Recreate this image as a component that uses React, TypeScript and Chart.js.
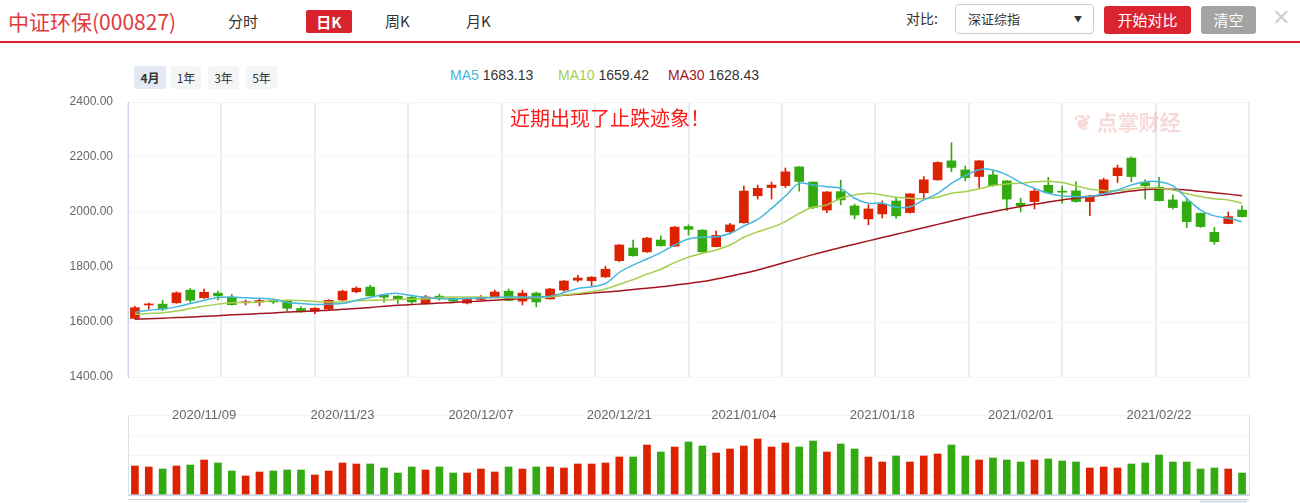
import React, { useEffect, useRef } from 'react';
import { Chart, registerables } from 'chart.js';

Chart.register(...registerables);

// ---- data ----
const DATES = [
  '2020/11/02', '2020/11/03', '2020/11/04', '2020/11/05', '2020/11/06', '2020/11/09', '2020/11/10', '2020/11/11', '2020/11/12', '2020/11/13',
  '2020/11/16', '2020/11/17', '2020/11/18', '2020/11/19', '2020/11/20', '2020/11/23', '2020/11/24', '2020/11/25', '2020/11/26', '2020/11/27',
  '2020/11/30', '2020/12/01', '2020/12/02', '2020/12/03', '2020/12/04', '2020/12/07', '2020/12/08', '2020/12/09', '2020/12/10', '2020/12/11',
  '2020/12/14', '2020/12/15', '2020/12/16', '2020/12/17', '2020/12/18', '2020/12/21', '2020/12/22', '2020/12/23', '2020/12/24', '2020/12/25',
  '2020/12/28', '2020/12/29', '2020/12/30', '2020/12/31', '2021/01/04', '2021/01/05', '2021/01/06', '2021/01/07', '2021/01/08', '2021/01/11',
  '2021/01/12', '2021/01/13', '2021/01/14', '2021/01/15', '2021/01/18', '2021/01/19', '2021/01/20', '2021/01/21', '2021/01/22', '2021/01/25',
  '2021/01/26', '2021/01/27', '2021/01/28', '2021/01/29', '2021/02/01', '2021/02/02', '2021/02/03', '2021/02/04', '2021/02/05', '2021/02/08',
  '2021/02/09', '2021/02/10', '2021/02/18', '2021/02/19', '2021/02/22', '2021/02/23', '2021/02/24', '2021/02/25', '2021/02/26', '2021/03/01',
  '2021/03/02',
];

const TICK_DATES = ['2020/11/09', '2020/11/23', '2020/12/07', '2020/12/21', '2021/01/04', '2021/01/18', '2021/02/01', '2021/02/22'];

const OPEN = [
  1613, 1662, 1665, 1670, 1716, 1688, 1705, 1690, 1670, 1673,
  1677, 1676, 1649, 1639, 1647, 1680, 1710, 1727, 1699, 1694,
  1690, 1667, 1694, 1686, 1669, 1682, 1689, 1712, 1676, 1705,
  1684, 1716, 1752, 1750, 1764, 1823, 1869, 1855, 1898, 1876,
  1947, 1934, 1874, 1928, 1961, 2059, 2089, 2096, 2164, 2109,
  2007, 2074, 2022, 1975, 1993, 2040, 1998, 2070, 2117, 2186,
  2153, 2129, 2135, 2113, 2032, 2038, 2097, 2075, 2077, 2038,
  2068, 2132, 2196, 2107, 2090, 2044, 2037, 1995, 1926, 1958,
  2007,
];
const CLOSE = [
  1652, 1664, 1647, 1706, 1679, 1708, 1695, 1663, 1673, 1678,
  1673, 1650, 1639, 1650, 1679, 1712, 1723, 1695, 1690, 1683,
  1673, 1691, 1684, 1676, 1682, 1689, 1709, 1679, 1705, 1673,
  1720, 1749, 1760, 1763, 1792, 1880, 1841, 1905, 1877, 1945,
  1937, 1855, 1915, 1953, 2076, 2086, 2098, 2146, 2111, 2017,
  2073, 2044, 1989, 2011, 2029, 1986, 2066, 2117, 2180, 2162,
  2125, 2186, 2096, 2047, 2023, 2076, 2070, 2072, 2038, 2058,
  2117, 2160, 2129, 2096, 2041, 2016, 1965, 1947, 1892, 1983,
  1983,
];
const HIGH = [
  1657, 1669, 1679, 1710, 1722, 1720, 1712, 1701, 1680, 1685,
  1683, 1680, 1656, 1652, 1681, 1716, 1728, 1734, 1700, 1695,
  1694, 1697, 1701, 1688, 1684, 1696, 1716, 1720, 1716, 1709,
  1722, 1751, 1770, 1765, 1803, 1882, 1898, 1908, 1913, 1948,
  1953, 1936, 1931, 1959, 2094, 2098, 2109, 2160, 2165, 2110,
  2074, 2116, 2029, 2026, 2040, 2052, 2067, 2129, 2183, 2252,
  2167, 2187, 2150, 2115, 2050, 2086, 2126, 2094, 2110, 2060,
  2123, 2171, 2200, 2117, 2126, 2062, 2050, 1996, 1944, 2000,
  2022,
];
const LOW = [
  1611, 1647, 1641, 1668, 1671, 1686, 1680, 1661, 1662, 1659,
  1667, 1641, 1635, 1630, 1645, 1678, 1706, 1694, 1672, 1668,
  1668, 1665, 1679, 1670, 1666, 1679, 1688, 1678, 1662, 1655,
  1683, 1712, 1746, 1728, 1762, 1819, 1839, 1853, 1876, 1874,
  1916, 1853, 1873, 1920, 1959, 2047, 2047, 2089, 2076, 2012,
  1998, 2026, 1975, 1953, 1978, 1977, 1996, 2052, 2115, 2146,
  2113, 2089, 2094, 2005, 2001, 2011, 2068, 2032, 2036, 1987,
  2066, 2107, 2110, 2047, 2040, 2011, 1943, 1944, 1883, 1957,
  1982,
];
const VOLUME = [
  29, 28, 26, 29, 30, 35, 32, 24, 19, 23,
  24, 25, 25, 20, 24, 32, 31, 31, 27, 22,
  28, 25, 28, 22, 22, 26, 23, 28, 26, 28,
  28, 27, 31, 31, 32, 38, 38, 50, 43, 48,
  53, 49, 42, 46, 49, 56, 48, 52, 48, 54,
  43, 51, 46, 38, 33, 39, 33, 39, 41, 50,
  39, 35, 37, 35, 33, 35, 36, 34, 33, 27,
  28, 27, 31, 32, 40, 33, 33, 26, 27, 26,
  22,
];
const MA5 = [
  1635, 1643, 1647, 1655, 1667, 1679, 1689, 1691, 1688, 1686,
  1683, 1671, 1667, 1664, 1665, 1667, 1679, 1689, 1700, 1704,
  1696, 1689, 1686, 1683, 1686, 1687, 1689, 1691, 1691, 1691,
  1694, 1707, 1722, 1728, 1740, 1780, 1807, 1829, 1852, 1880,
  1902, 1908, 1910, 1922, 1949, 1973, 2013, 2058, 2104, 2098,
  2092, 2086, 2050, 2032, 2032, 2017, 2019, 2044, 2068, 2104,
  2132, 2154, 2153, 2135, 2107, 2086, 2068, 2058, 2056, 2056,
  2066, 2080, 2098, 2110, 2110, 2095, 2050, 2007, 1986, 1977,
  1965,
];
const MA10 = [
  1628, 1631, 1633, 1640, 1649, 1658, 1665, 1670, 1671, 1673,
  1678, 1679, 1678, 1675, 1673, 1673, 1677, 1679, 1680, 1682,
  1683, 1684, 1689, 1691, 1691, 1691, 1689, 1688, 1688, 1688,
  1691, 1698, 1704, 1710, 1720, 1737, 1754, 1774, 1792, 1816,
  1836, 1850, 1862, 1880, 1908, 1928, 1944, 1965, 1995, 2017,
  2026, 2050, 2062, 2068, 2062, 2054, 2050, 2048, 2054, 2068,
  2074, 2084, 2096, 2102, 2105, 2110, 2112, 2107, 2095, 2083,
  2078, 2078, 2084, 2090, 2086, 2080, 2066, 2056, 2048, 2044,
  2032,
];
const MA30 = [
  1610, 1612, 1614, 1616, 1618, 1621, 1623, 1626, 1628, 1631,
  1633, 1636, 1638, 1641, 1643, 1646, 1649, 1653, 1657, 1661,
  1664, 1666, 1669, 1671, 1674, 1676, 1679, 1682, 1685, 1689,
  1693, 1697, 1701, 1705, 1709, 1713, 1718, 1723, 1728, 1734,
  1740, 1747, 1756, 1766, 1777, 1789, 1803, 1817, 1831, 1845,
  1858, 1871, 1883, 1895, 1907, 1919, 1931, 1943, 1955, 1967,
  1979, 1991, 2001, 2011, 2020, 2028, 2036, 2044, 2050, 2056,
  2062, 2069, 2076, 2082, 2084, 2083, 2080, 2075, 2070, 2065,
  2059,
];

const LEGEND_NAMES = ['MA5', 'MA10', 'MA30'];
const LEGEND_VALUES = ['1683.13', '1659.42', '1628.43'];
const RANGE_TABS = ['4月', '1年', '3年', '5年'];
const V_GRID_COUNT = 12;

const UP = '#dd2200';
const DOWN = '#33aa11';
const MA_COLORS = ['#45b6de', '#a6ce4e', '#a4161f'];
const CJK = '"Noto Sans CJK SC", "Noto Sans", sans-serif';
const LATIN = '"Liberation Sans", Arial, sans-serif';

export default function App() {
  const mainRef = useRef<HTMLCanvasElement>(null);
  const volRef = useRef<HTMLCanvasElement>(null);

  useEffect(() => {
    Chart.defaults.font.family = LATIN;
    const colors = OPEN.map((o, i) => (CLOSE[i] >= o ? UP : DOWN));

    const main = new Chart(mainRef.current!, {
      type: 'bar',
      data: {
        labels: DATES,
        datasets: [
          { type: 'line', label: 'MA5', data: MA5, borderColor: MA_COLORS[0], borderWidth: 1.5, pointRadius: 0, tension: 0.35, order: 1, xAxisID: 'x', yAxisID: 'y' } as any,
          { type: 'line', label: 'MA10', data: MA10, borderColor: MA_COLORS[1], borderWidth: 1.5, pointRadius: 0, tension: 0.35, order: 1, xAxisID: 'x', yAxisID: 'y' } as any,
          { type: 'line', label: 'MA30', data: MA30, borderColor: MA_COLORS[2], borderWidth: 1.5, pointRadius: 0, tension: 0.35, order: 1, xAxisID: 'x', yAxisID: 'y' } as any,
          { type: 'bar', label: 'body', data: OPEN.map((o, i) => [o, CLOSE[i]]), backgroundColor: colors, barThickness: 9, grouped: false, minBarLength: 1, borderWidth: 0, order: 2, xAxisID: 'x', yAxisID: 'y' } as any,
          { type: 'bar', label: 'wick', data: LOW.map((l, i) => [l, HIGH[i]]), backgroundColor: colors, barThickness: 1, grouped: false, borderWidth: 0, order: 3, xAxisID: 'x', yAxisID: 'y' } as any,
        ],
      },
      options: {
        responsive: false,
        maintainAspectRatio: false,
        animation: false,
        layout: { padding: { top: 12, right: 51, bottom: 13, left: 0 } },
        plugins: { legend: { display: false }, tooltip: { enabled: false } },
        scales: {
          x: { type: 'category', display: false, offset: true },
          xg: {
            type: 'linear', position: 'bottom', min: 0, max: V_GRID_COUNT, offset: false,
            ticks: { display: false, stepSize: 1, maxTicksLimit: 50 },
            grid: { color: '#e8edf3', lineWidth: 2, drawTicks: false, offset: false },
            border: { display: false },
            afterBuildTicks: (s: any) => {
              s.ticks = Array.from({ length: V_GRID_COUNT + 1 }, (_, k) => ({ value: k }));
            },
            afterFit: (s: any) => { s.height = 0; },
          },
          y: {
            min: 1400, max: 2400,
            ticks: { stepSize: 200, color: '#666', font: { size: 12, family: LATIN }, padding: 0, callback: (v: any) => Number(v).toFixed(2) },
            grid: { color: '#f4f4f4', drawTicks: true, tickLength: 15, tickColor: 'rgba(0,0,0,0)' },
            border: { display: true, color: '#c9d6ea' },
            afterFit: (s: any) => { s.width = 128; },
          },
        },
      } as any,
    });

    const vol = new Chart(volRef.current!, {
      type: 'bar',
      data: {
        labels: DATES,
        datasets: [
          { label: 'VOL', data: VOLUME, backgroundColor: colors, barThickness: 7, borderWidth: 0 } as any,
        ],
      },
      options: {
        responsive: false,
        maintainAspectRatio: false,
        animation: false,
        layout: { padding: { top: 15, right: 51, bottom: 8, left: 0 } },
        plugins: { legend: { display: false }, tooltip: { enabled: false } },
        scales: {
          x: {
            type: 'category', position: 'top', offset: true,
            grid: { display: false, drawTicks: false },
            border: { display: false },
            ticks: {
              mirror: true,
              autoSkip: false, maxRotation: 0, minRotation: 0, padding: -7, color: '#666',
              font: { size: 13, family: LATIN },
              callback: (_v: any, i: number) => (TICK_DATES.includes(DATES[i]) ? DATES[i] : ''),
            },
            afterFit: (s: any) => { s.height = 0; },
          },
          y: {
            min: 0, max: 80,
            ticks: { display: false, stepSize: 20 },
            grid: { drawTicks: false, color: (c: any) => (c.tick && c.tick.value === 0 ? '#cfd8e8' : '#f4f4f4'), lineWidth: (c: any) => (c.tick && c.tick.value === 0 ? 2 : 1) },
            border: { display: true, color: '#d6dfec' },
            afterFit: (s: any) => { s.width = 128; },
          },
          y2: {
            position: 'right', min: 0, max: 80,
            ticks: { display: false },
            grid: { display: false, drawTicks: false },
            border: { display: true, color: '#d6dfec' },
            afterFit: (s: any) => { s.width = 0; },
          },
        },
      } as any,
    });

    return () => {
      main.destroy();
      vol.destroy();
    };
  }, []);

  const abs = (style: React.CSSProperties): React.CSSProperties => ({ position: 'absolute', ...style });

  return (
    <div style={{ position: 'absolute', left: 0, top: 0, width: 1300, height: 503, background: '#fff', overflow: 'hidden', fontFamily: CJK }}>
      {/* header */}
      <div style={abs({ left: 8, top: 7, fontSize: 21, lineHeight: '28px', color: '#e03a3e', whiteSpace: 'nowrap' })}>中证环保(000827)</div>
      <div style={abs({ left: 228, top: 10, fontSize: 15, lineHeight: '22px', color: '#333' })}>分时</div>
      <div style={abs({ left: 306, top: 10, width: 46, height: 23, background: '#d9232c', borderRadius: 2, color: '#fff', fontSize: 15, fontWeight: 'bold', lineHeight: '23px', textAlign: 'center' })}>日K</div>
      <div style={abs({ left: 385, top: 10, fontSize: 15, lineHeight: '22px', color: '#333' })}>周K</div>
      <div style={abs({ left: 466, top: 10, fontSize: 15, lineHeight: '22px', color: '#333' })}>月K</div>

      <div style={abs({ left: 906, top: 8, fontSize: 14, lineHeight: '20px', color: '#333' })}>对比:</div>
      <div style={abs({ left: 955, top: 4, width: 137, height: 28, border: '1px solid #ccc', borderRadius: 4, background: '#fff' })}>
        <span style={abs({ left: 12, top: 4, fontSize: 13, lineHeight: '20px', color: '#333' })}>深证综指</span>
        <span style={abs({ right: 11, top: 4, fontSize: 8, lineHeight: '20px', color: '#333' })}>▼</span>
      </div>
      <div style={abs({ left: 1104, top: 6, width: 87, height: 28, background: '#dc2330', borderRadius: 3, color: '#fff', fontSize: 15, lineHeight: '28px', textAlign: 'center' })}>开始对比</div>
      <div style={abs({ left: 1201, top: 6, width: 55, height: 28, background: '#a3a3a3', borderRadius: 3, color: '#fff', fontSize: 15, lineHeight: '28px', textAlign: 'center' })}>清空</div>
      <div style={abs({ left: 1272, top: 4, fontSize: 22, lineHeight: '28px', color: '#d0d0d0', fontFamily: LATIN })}>✕</div>

      <div style={abs({ left: 0, top: 41, width: 1300, height: 2, background: '#d9232c' })} />

      {/* range tabs */}
      {RANGE_TABS.map((t, i) => {
        const lefts = [134, 171, 208, 246];
        const widths = [32, 30, 31, 31];
        return (
          <div key={t} style={abs({ left: lefts[i], top: 66, width: widths[i], height: 23, background: i === 0 ? '#e4eaf4' : '#f4f5f7', borderRadius: 2, fontSize: 12, lineHeight: '23px', textAlign: 'center', color: '#333', fontWeight: i === 0 ? 'bold' : 'normal' })}>{t}</div>
        );
      })}

      {/* legend */}
      {LEGEND_NAMES.map((n, i) => {
        const lefts = [450, 558, 668];
        return (
          <div key={n} style={abs({ left: lefts[i], top: 65, fontSize: 14, lineHeight: '20px', whiteSpace: 'nowrap', fontFamily: LATIN })}>
            <span style={{ color: MA_COLORS[i] }}>{n}</span>
            <span style={{ color: '#333' }}> {LEGEND_VALUES[i]}</span>
          </div>
        );
      })}

      {/* charts */}
      <canvas ref={mainRef} width={1300} height={300} style={abs({ left: 0, top: 90, width: 1300, height: 300 })} />
      <canvas ref={volRef} width={1300} height={103} style={abs({ left: 0, top: 400, width: 1300, height: 103 })} />

      {/* annotation & watermark */}
      <div style={abs({ left: 510, top: 105, fontSize: 20, lineHeight: '26px', color: '#ff1a1a', whiteSpace: 'nowrap' })}>近期出现了止跌迹象！</div>
      <div style={abs({ left: 1074, top: 107, fontSize: 21, lineHeight: '28px', color: 'rgba(225,110,110,0.26)', fontWeight: 'bold', whiteSpace: 'nowrap' })}>❦ 点掌财经</div>

      {/* bottom slider line */}
      <div style={abs({ left: 128, top: 499, width: 1121, height: 1, background: '#d0d0d0' })} />
      <div style={abs({ left: 1200, top: 500, width: 47, height: 3, background: '#dde3ef' })} />
    </div>
  );
}
